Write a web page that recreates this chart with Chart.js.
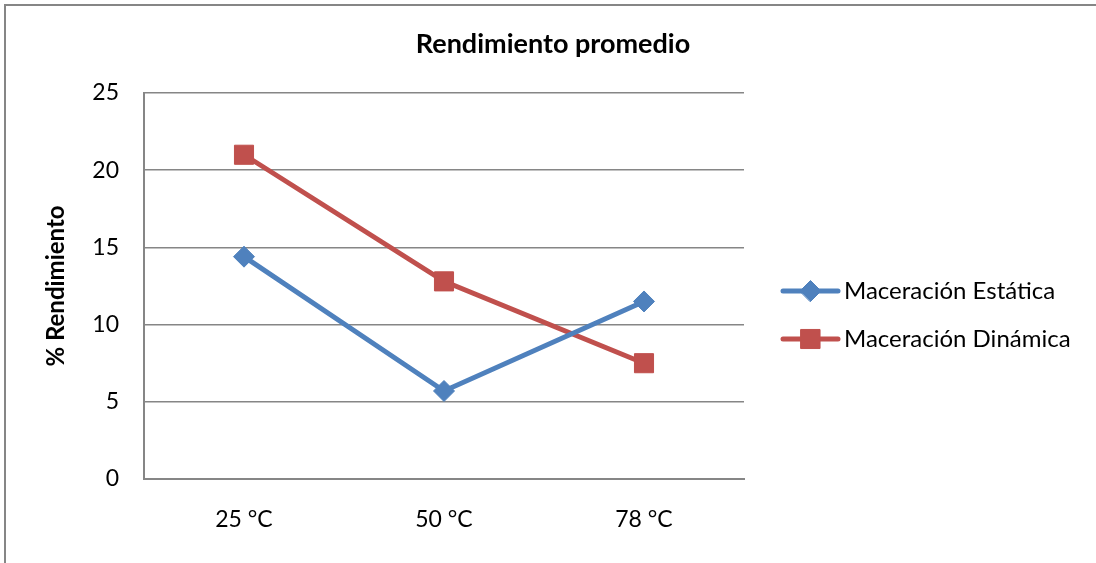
<!DOCTYPE html>
<html>
<head>
<meta charset="utf-8">
<title>Rendimiento promedio</title>
<script src="https://cdn.jsdelivr.net/npm/chart.js@4/dist/chart.umd.min.js"></script>
<style>
  html, body { margin: 0; padding: 0; background: #ffffff; overflow: hidden; }
  #frame {
    position: absolute; left: 4px; top: 4px;
    width: 1200px; height: 700px;
    border: 2px solid #868686; box-sizing: border-box;
  }
  #chart { position: absolute; left: 0; top: 0; }
</style>
</head>
<body>
<div id="frame"></div>
<canvas id="chart" width="1096" height="563"></canvas>
<script>
// Temperatures tested and average yield (%) for each maceration method
const categories = ['25 °C', '50 °C', '78 °C'];
const maceracionEstatica = [14.4, 5.7, 11.5];
const maceracionDinamica = [21.0, 12.8, 7.5];
const seriesNames = ['Maceración Estática', 'Maceración Dinámica'];
const yTicks = [0, 5, 10, 15, 20, 25];
const chartTitle = 'Rendimiento promedio';
const yAxisTitle = '% Rendimiento';

const FONT = 'Lato, "Open Sans", sans-serif';
const BLUE = '#4F81BD';
const RED = '#C0504D';
const GRID = '#868686';

// Title centred over the whole chart frame
const titlePlugin = {
  id: 'frameTitle',
  afterDraw(chart) {
    const ctx = chart.ctx;
    ctx.save();
    ctx.font = 'bold 27px ' + FONT;
    ctx.fillStyle = '#000000';
    ctx.textAlign = 'center';
    ctx.textBaseline = 'middle';
    ctx.fillText(chartTitle, 553, 44);
    ctx.restore();
  }
};

// Legend to the right of the plot: line sample with its marker, then the name
const sideLegend = {
  id: 'sideLegend',
  afterDraw(chart) {
    const ctx = chart.ctx;
    const x0 = 783, x1 = 838, textX = 844;
    const rows = [291, 339];
    chart.data.datasets.forEach((ds, i) => {
      const y = rows[i];
      ctx.save();
      ctx.strokeStyle = ds.borderColor;
      ctx.lineWidth = ds.borderWidth;
      ctx.lineCap = 'round';
      ctx.beginPath();
      ctx.moveTo(x0, y);
      ctx.lineTo(x1, y);
      ctx.stroke();
      ctx.fillStyle = ds.pointBackgroundColor;
      ctx.strokeStyle = ds.pointBorderColor;
      ctx.lineWidth = ds.pointBorderWidth;
      Chart.helpers.drawPoint(ctx, {
        pointStyle: ds.pointStyle,
        radius: ds.pointRadius,
        borderWidth: ds.pointBorderWidth,
        rotation: 0
      }, (x0 + x1) / 2, y);
      ctx.font = '24px ' + FONT;
      ctx.fillStyle = '#000000';
      ctx.textAlign = 'left';
      ctx.textBaseline = 'middle';
      ctx.fillText(ds.label, textX, y);
      ctx.restore();
    });
  }
};

new Chart(document.getElementById('chart'), {
  type: 'line',
  data: {
    labels: categories,
    datasets: [
      {
        label: seriesNames[0],
        data: maceracionEstatica,
        borderColor: BLUE,
        backgroundColor: BLUE,
        borderWidth: 5,
        pointStyle: 'rectRot',
        pointRadius: 10.5,
        pointBackgroundColor: BLUE,
        pointBorderColor: BLUE,
        pointBorderWidth: 1,
        tension: 0
      },
      {
        label: seriesNames[1],
        data: maceracionDinamica,
        borderColor: RED,
        backgroundColor: RED,
        borderWidth: 5,
        pointStyle: 'rect',
        pointRadius: 13.5,
        pointBackgroundColor: RED,
        pointBorderColor: RED,
        pointBorderWidth: 1,
        tension: 0
      }
    ]
  },
  options: {
    responsive: false,
    animation: false,
    devicePixelRatio: 1,
    layout: { padding: { left: 0, top: 93, right: 352, bottom: 0 } },
    plugins: {
      legend: { display: false },
      title: { display: false },
      tooltip: { enabled: false }
    },
    scales: {
      x: {
        type: 'category',
        offset: true,
        grid: { display: false, drawTicks: false },
        border: { display: true, color: GRID, width: 2 },
        ticks: {
          color: '#000000',
          font: { family: FONT, size: 23 },
          padding: 27,
          maxRotation: 0
        },
        afterFit(scale) { scale.height = 84; }
      },
      y: {
        min: 0,
        max: 25,
        afterBuildTicks(scale) { scale.ticks = yTicks.map(v => ({ value: v })); },
        grid: { color: GRID, lineWidth: 1.5, drawTicks: false },
        border: { display: true, color: GRID, width: 2 },
        ticks: {
          color: '#000000',
          font: { family: FONT, size: 23 },
          padding: 25
        },
        title: {
          display: true,
          text: yAxisTitle,
          color: '#000000',
          font: { family: FONT, size: 24, weight: 'bold' },
          padding: { top: 42, bottom: 0 }
        },
        afterFit(scale) { scale.width = 144; }
      }
    }
  },
  plugins: [titlePlugin, sideLegend]
});
</script>
</body>
</html>
